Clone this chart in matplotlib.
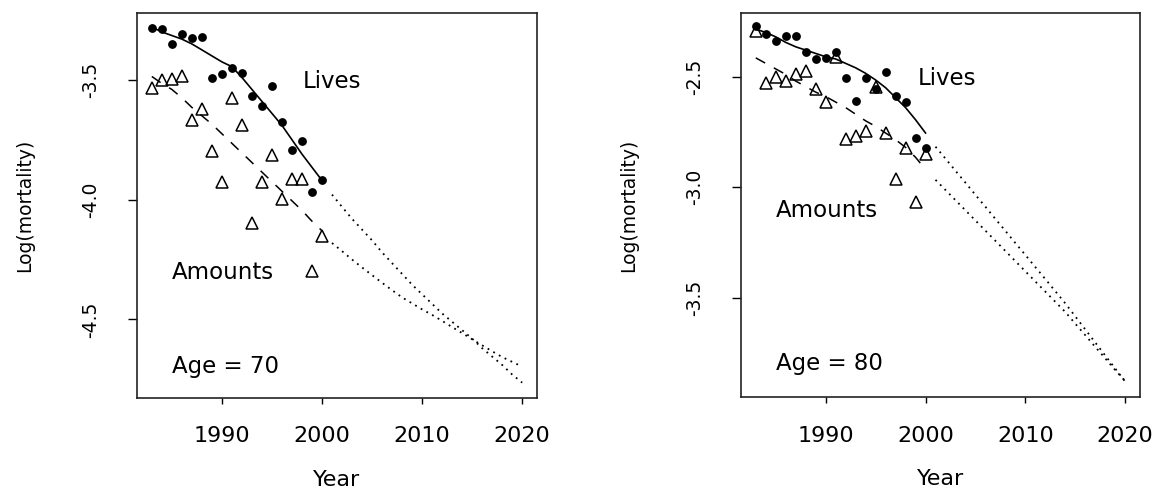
import numpy as np
import matplotlib
matplotlib.use("Agg")
import matplotlib.pyplot as plt

# ani de observatie si ani de prognoza
ani = list(range(1983, 2001))
ani_prog = list(range(2001, 2021))

# Varsta 70 - valori observate
lives70 = [-3.285, -3.289, -3.351, -3.310, -3.326, -3.322, -3.493, -3.475, -3.449,
           -3.472, -3.569, -3.611, -3.524, -3.674, -3.794, -3.757, -3.969, -3.920]
amounts70 = [-3.535, -3.500, -3.497, -3.482, -3.667, -3.622, -3.799, -3.926, -3.576,
             -3.688, -4.097, -3.928, -3.812, -3.996, -3.914, -3.914, -4.299, -4.150]
# Varsta 70 - curbe ajustate
fit_lives70 = [-3.280, -3.300, -3.315, -3.330, -3.350, -3.375, -3.400, -3.425, -3.445,
               -3.490, -3.540, -3.590, -3.640, -3.690, -3.750, -3.810, -3.865, -3.920]
fit_amounts70 = [-3.486, -3.515, -3.540, -3.575, -3.615, -3.650, -3.685, -3.725, -3.765,
                 -3.805, -3.845, -3.885, -3.925, -3.965, -4.005, -4.045, -4.090, -4.130]
# Varsta 70 - prognoza
prog_lives70 = [-3.979, -4.030, -4.080, -4.125, -4.170, -4.220, -4.265, -4.310, -4.355, -4.395,
                -4.435, -4.475, -4.510, -4.545, -4.580, -4.620, -4.655, -4.690, -4.730, -4.764]
prog_amounts70 = [-4.181, -4.215, -4.250, -4.283, -4.315, -4.347, -4.378, -4.408, -4.433, -4.458,
                  -4.481, -4.506, -4.532, -4.557, -4.583, -4.608, -4.633, -4.657, -4.677, -4.697]

# Varsta 80 - valori observate
lives80 = [-2.269, -2.308, -2.337, -2.314, -2.314, -2.387, -2.420, -2.414, -2.387,
           -2.505, -2.609, -2.507, -2.557, -2.477, -2.586, -2.613, -2.779, -2.824]
amounts80 = [-2.292, -2.530, -2.500, -2.518, -2.489, -2.473, -2.556, -2.616, -2.410,
             -2.783, -2.768, -2.746, -2.548, -2.753, -2.964, -2.824, -3.066, -2.851]
# Varsta 80 - curbe ajustate
fit_lives80 = [-2.285, -2.300, -2.320, -2.345, -2.365, -2.380, -2.395, -2.410, -2.420,
               -2.440, -2.460, -2.485, -2.515, -2.550, -2.595, -2.640, -2.695, -2.755]
fit_amounts80 = [-2.415, -2.440, -2.465, -2.490, -2.520, -2.545, -2.570, -2.590, -2.615,
                 -2.640, -2.670, -2.700, -2.725, -2.755, -2.785, -2.820, -2.865, -2.920]
# Varsta 80 - prognoza
prog_lives80 = [-2.817, -2.871, -2.926, -2.980, -3.035, -3.089, -3.144, -3.198, -3.253, -3.307,
                -3.362, -3.416, -3.471, -3.526, -3.585, -3.644, -3.703, -3.762, -3.821, -3.880]
prog_amounts80 = [-2.967, -3.013, -3.059, -3.105, -3.151, -3.197, -3.243, -3.289, -3.335, -3.381,
                  -3.427, -3.473, -3.519, -3.565, -3.618, -3.670, -3.723, -3.775, -3.828, -3.878]

panouri = [
    dict(lives=lives70, amounts=amounts70, fl=fit_lives70, fa=fit_amounts70,
         pl=prog_lives70, pa=prog_amounts70, yticks=[-3.5, -4.0, -4.5],
         ylim=(-4.828, -3.221), txt_lives=(1998.1, -3.535),
         txt_amounts=(1985.0, -4.330), txt_age=(1985.0, -4.722), age="Age = 70",
         rect=[137 / 1161, 96 / 494, 400 / 1161, 385 / 494]),
    dict(lives=lives80, amounts=amounts80, fl=fit_lives80, fa=fit_amounts80,
         pl=prog_lives80, pa=prog_amounts80, yticks=[-2.5, -3.0, -3.5],
         ylim=(-3.951, -2.212), txt_lives=(1999.2, -2.538),
         txt_amounts=(1985.0, -3.133), txt_age=(1985.0, -3.827), age="Age = 80",
         rect=[741 / 1161, 96.7 / 494, 399 / 1161, 384.3 / 494]),
]

fig = plt.figure(figsize=(11.61, 4.94), dpi=100)

for p in panouri:
    ax = fig.add_axes(p["rect"])

    ax.plot(ani, p["fl"], color="black", lw=1.2)
    ax.plot(ani, p["fa"], color="black", lw=1.1, linestyle=(0, (7, 6.5)))
    ax.plot(ani_prog, p["pl"], color="black", lw=1.3, linestyle=(0, (1, 2.6)))
    ax.plot(ani_prog, p["pa"], color="black", lw=1.3, linestyle=(0, (1, 2.6)))

    ax.plot(ani, p["lives"], "o", color="black", markersize=5.3, zorder=3)
    ax.plot(ani, p["amounts"], "^", markerfacecolor="none", markeredgecolor="black",
            markersize=8.7, markeredgewidth=1.1, zorder=3)

    ax.text(*p["txt_lives"], "Lives", fontsize=16.5, va="baseline", ha="left")
    ax.text(*p["txt_amounts"], "Amounts", fontsize=16.5, va="baseline", ha="left")
    ax.text(*p["txt_age"], p["age"], fontsize=16.5, va="baseline", ha="left")

    ax.set_xlim(1981.52, 2021.48)
    ax.set_ylim(*p["ylim"])
    ax.set_xticks([1990, 2000, 2010, 2020])
    ax.set_yticks(p["yticks"])
    ax.set_yticklabels([f"{v:.1f}" for v in p["yticks"]])

    ax.tick_params(axis="x", direction="out", length=4.5, width=1, pad=16, labelsize=16)
    ax.tick_params(axis="y", direction="out", length=6.5, width=1, pad=27, labelsize=13.5)
    for t in ax.get_yticklabels():
        t.set_rotation(90)
        t.set_ha("center")
        t.set_va("center")

    for s in ax.spines.values():
        s.set_linewidth(1.2)
        s.set_color("#222222")

    ax.set_xlabel("Year", fontsize=16, va="center")
    ax.xaxis.set_label_coords(0.5, -82 / 385)
    ax.set_ylabel("Log(mortality)", fontsize=13.5, va="center")
    ax.yaxis.set_label_coords(-112.5 / 400, 0.5)

fig.savefig("out.png", dpi=100)
